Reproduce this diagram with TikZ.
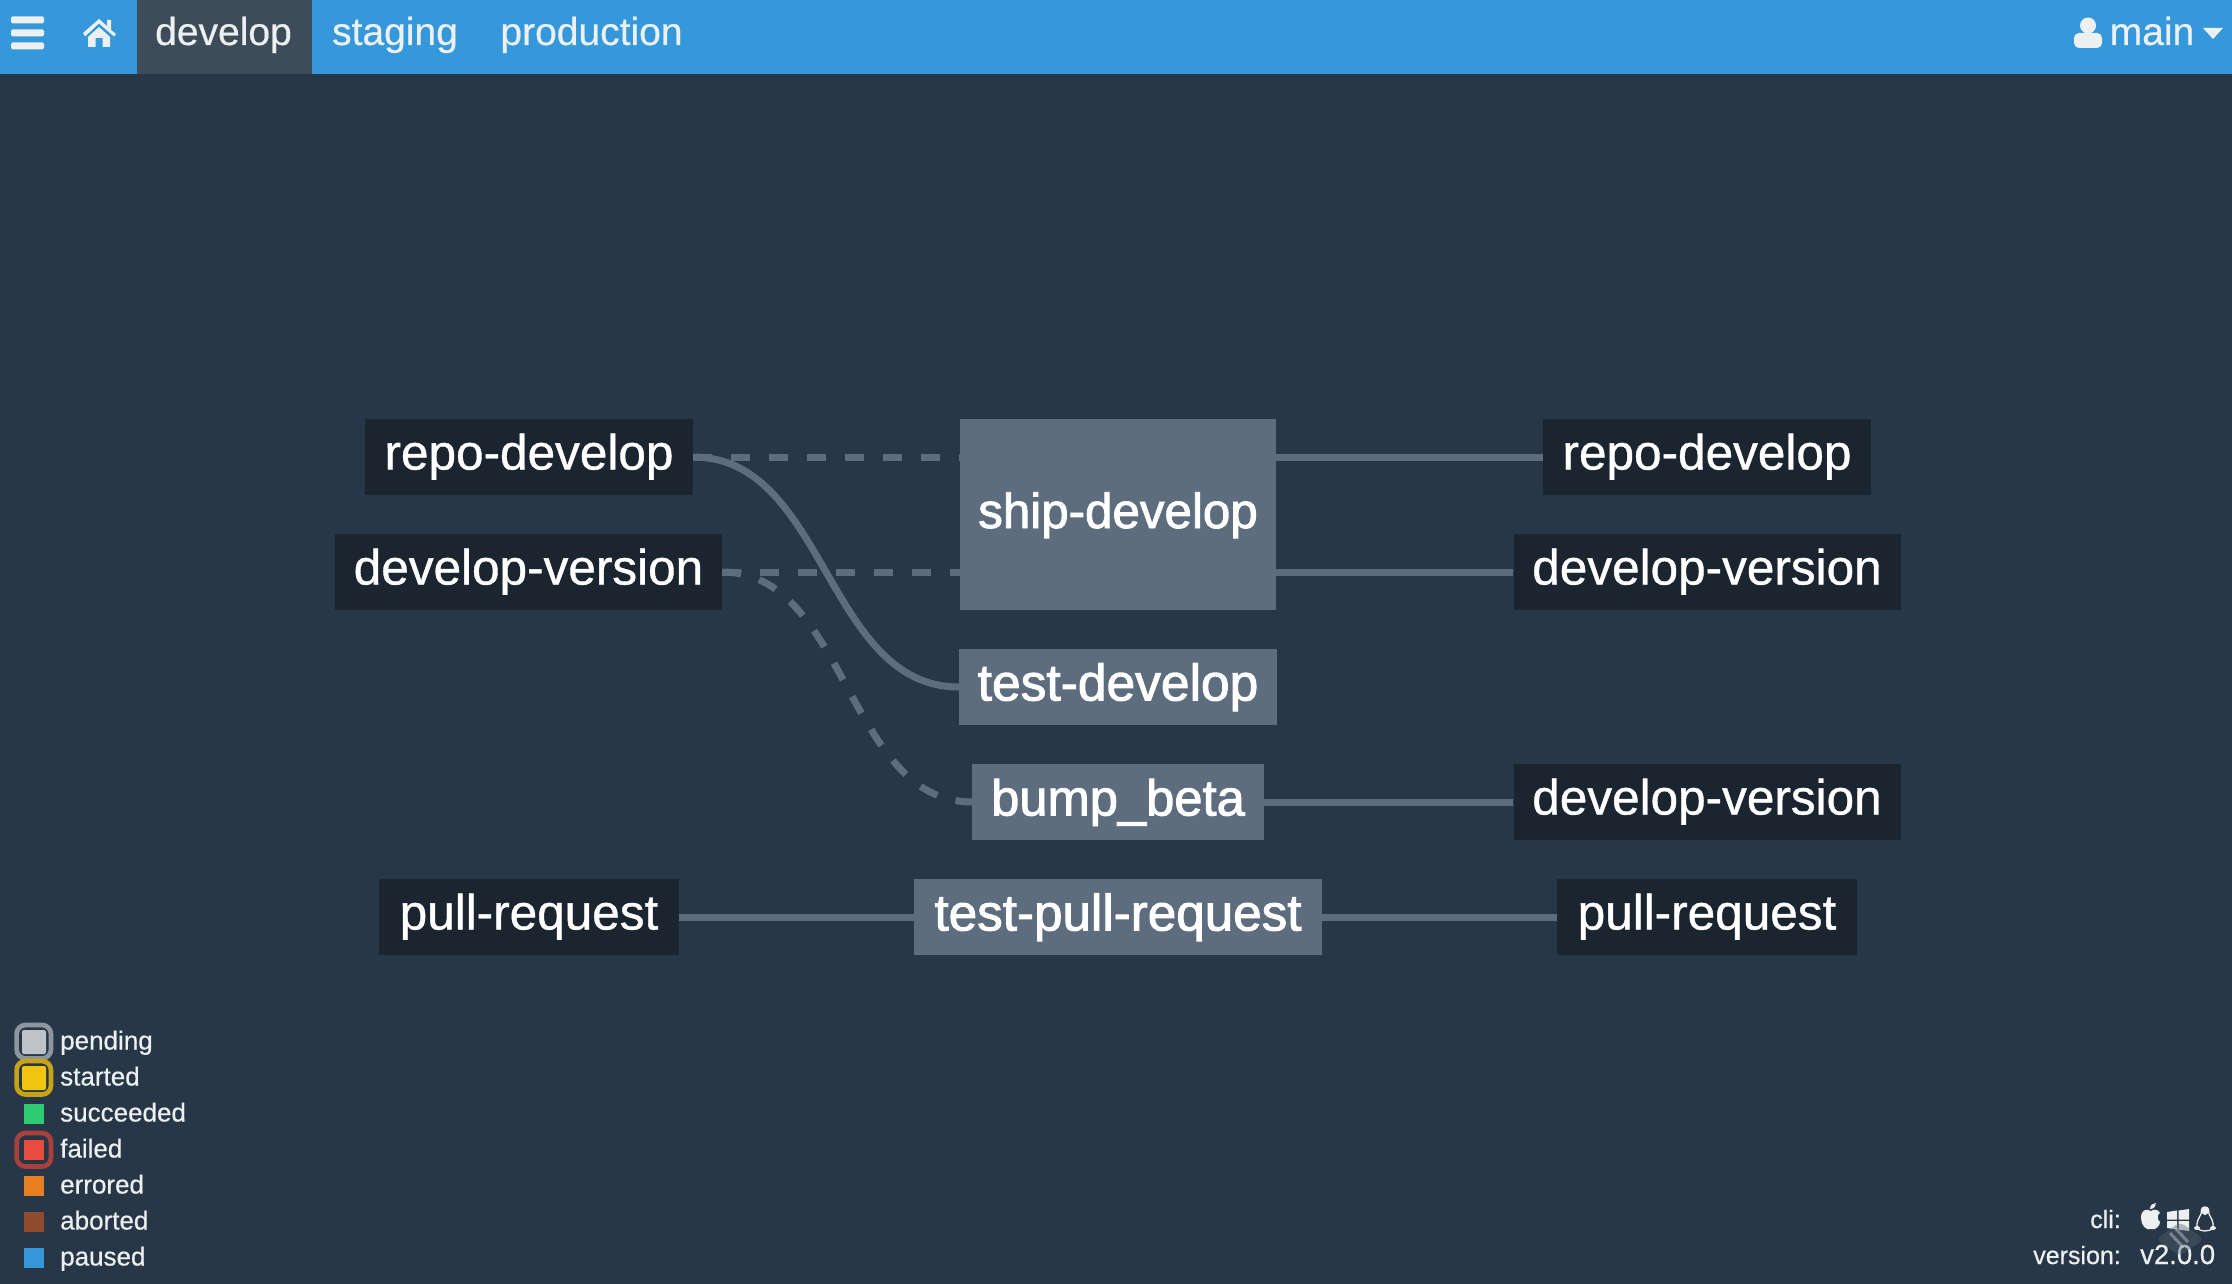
\documentclass[tikz,border=0pt]{standalone}
\usepackage{fontspec}
\setmainfont{Liberation Sans}
\newfontfamily\resfont[FakeBold=0.8]{Liberation Sans}
\newfontfamily\jobfont[FakeBold=1.8]{Liberation Sans}
\newfontfamily\smallfont[FakeBold=0.5]{Liberation Sans}
\usetikzlibrary{calc}
\definecolor{bg}{HTML}{283747}
\definecolor{bar}{HTML}{3498DB}
\definecolor{tab}{HTML}{3E4C5A}
\definecolor{dark}{HTML}{1B2530}
\definecolor{job}{HTML}{5D6D7E}
\definecolor{pale}{HTML}{ECF0F1}
\definecolor{ringa}{HTML}{8D959F}
\definecolor{ringb}{HTML}{C5A416}
\definecolor{ringc}{HTML}{A8413D}
\definecolor{grip}{HTML}{55606E}
\tikzset{
  x=1pt,y=-1pt,
  res/.style={fill=dark,text=white,inner sep=0pt,font=\resfont\fontsize{49.5}{48}\selectfont,text height=35pt,text depth=10pt,minimum height=76pt},
  jobbox/.style={fill=job,text=white,inner sep=0pt,font=\jobfont\fontsize{51}{48}\selectfont,text height=37pt,text depth=10pt,minimum height=76pt},
  link/.style={draw=job,line width=7pt},
  dashlink/.style={link,dash pattern=on 19pt off 19pt},
  nav/.style={text=pale,inner sep=0pt,font=\smallfont\fontsize{39}{38}\selectfont,text height=32pt,text depth=8pt},
  leg/.style={text=pale,inner sep=0pt,anchor=west,font=\smallfont\fontsize{26}{26}\selectfont,text height=21pt,text depth=6pt},
  foot/.style={text=pale,inner sep=0pt,font=\smallfont\fontsize{25}{26}\selectfont},
  ring/.style={rounded corners=9pt,line width=4.7pt}
}
\begin{document}
\begin{tikzpicture}
\useasboundingbox (0,0) rectangle (2232,1284);
\fill[bg] (0,0) rectangle (2232,1284);
% header
\fill[bar] (0,0) rectangle (2232,74);
\fill[tab] (137,0) rectangle (312,74);
\foreach \yy in {20,33,46} \fill[pale,rounded corners=1.5pt] (11,\yy-3.5) rectangle (44,\yy+3.5);
% home icon
\fill[pale] (83,33) -- (99,19) -- (107,26) -- (107,20) -- (111,20) -- (111,30) -- (116,34) -- (114,36.5) -- (99,23.5) -- (85,36.5) -- cycle;
\fill[pale] (88,37) -- (99,27) -- (110,37) -- (110,47) -- (102.5,47) -- (102.5,38) -- (95.5,38) -- (95.5,47) -- (88,47) -- cycle;
\node[nav] (navdev) at (223.5,33) {develop};
\node[nav] (navsta) at (395,33) {staging};
\node[nav] (navpro) at (591.5,33) {production};
\node[nav] (navmain) at (2152,33) {main};
% user icon
\fill[pale] (2088,25.5) circle (8pt);
\fill[pale,rounded corners=5pt] (2074,48) rectangle (2102,33);
\fill[pale] (2203,28) -- (2223,28) -- (2213,39) -- cycle;
% nodes
\node[res] (repoL) at (529,457) [minimum width=328pt] {repo-develop};
\node[res] (verL) at (528.5,572) [minimum width=387pt] {develop-version};
\node[res] (prL) at (529,917) [minimum width=300pt] {pull-request};
\node[jobbox,minimum width=316pt,minimum height=191pt] (ship) at (1118,514.5) {};
\node[jobbox,minimum width=318pt,font=\jobfont\fontsize{51.5}{48}\selectfont] (testd) at (1118,687) {test-develop};
\node[jobbox,minimum width=292pt,font=\jobfont\fontsize{50.7}{48}\selectfont] (bump) at (1118,802) {bump\_beta};
\node[jobbox,minimum width=408pt,font=\jobfont\fontsize{51.2}{48}\selectfont] (testpr) at (1118,917) {test-pull-request};
\node[res] (repoR) at (1707,457) [minimum width=328pt] {repo-develop};
\node[res] (verR) at (1707,572) [minimum width=387pt] {develop-version};
\node[res] (verB) at (1707,802) [minimum width=387pt] {develop-version};
\node[res] (prR) at (1707,917) [minimum width=300pt] {pull-request};
\node[text=white,inner sep=0pt,font=\jobfont\fontsize{49.3}{48}\selectfont,text height=37pt,text depth=10pt] (shiptext) at (ship.center) {ship-develop};
% links
\coordinate (mida) at ($(repoL.east)!.5!(testd.west)$);
\coordinate (midb) at ($(verL.east)!.5!(bump.west)$);
\draw[dashlink] (repoL.east) -- (repoL.east -| ship.west);
\draw[dashlink] (verL.east) -- (verL.east -| ship.west);
\draw[link] (repoL.east) .. controls (mida |- repoL.east) and (mida |- testd.west) .. (testd.west);
\draw[dashlink] (verL.east) .. controls (midb |- verL.east) and (midb |- bump.west) .. (bump.west);
\draw[link] (repoR.west -| ship.east) -- (repoR.west);
\draw[link] (verR.west -| ship.east) -- (verR.west);
\draw[link] (bump.east) -- (verB.west);
\draw[link] (prL.east) -- (testpr.west);
\draw[link] (testpr.east) -- (prR.west);
% legend
\draw[ring,draw=ringa] (16.6,1025) rectangle (51,1058.5);
\draw[ring,draw=ringb] (16.6,1061) rectangle (51,1094.5);
\draw[ring,draw=ringc] (16.6,1133) rectangle (51,1166.5);
\definecolor{sa}{HTML}{BDC3C7}
\definecolor{sb}{HTML}{F1C40F}
\fill[sa,rounded corners=2pt] (22,1030) rectangle (46,1054);
\fill[sb,rounded corners=2pt] (22,1066) rectangle (46,1090);
\foreach \yy/\cc in {1114/2ECC71,1150/E74C3C,1186/E67E22,1222/8E4B2E,1258/3498DB}{
  \definecolor{cc}{HTML}{\cc}
  \fill[cc] (24,\yy-10) rectangle (44,\yy+10);
}
\foreach \yy/\ww in {1042/pending,1078/started,1114/succeeded,1150/failed,1186/errored,1222/aborted,1258/paused}{
  \node[leg] at (60,\yy) {\ww};
}
% footer
\node[foot,anchor=base east] (cli) at (2121,1228) {cli:};
\node[foot,anchor=base east] (vers) at (2121,1264) {version:};
\node[foot,anchor=base west,font=\smallfont\fontsize{27.5}{26}\selectfont] (vv) at (2140,1264) {v2.0.0};
% apple
\begin{scope}[yshift=-1pt]
\fill[pale] (2151,1210) .. controls (2146,1207) and (2141,1209) .. (2141,1217) .. controls (2141,1224) and (2146,1230) .. (2151,1228) .. controls (2156,1230) and (2160,1224) .. (2160,1221) .. controls (2157,1219) and (2157,1213) .. (2160,1212) .. controls (2158,1208) and (2154,1208) .. (2151,1210) -- cycle;
\fill[pale] (2150,1208) .. controls (2150,1204) and (2153,1202) .. (2156,1202) .. controls (2156,1205) and (2154,1208) .. (2150,1208) -- cycle;
\end{scope}
% windows
\fill[pale] (2167,1212) -- (2177,1210.5) -- (2177,1219.5) -- (2167,1219.5) -- cycle;
\fill[pale] (2178.5,1210.5) -- (2189,1209) -- (2189,1219.5) -- (2178.5,1219.5) -- cycle;
\fill[pale] (2167,1221) -- (2177,1221) -- (2177,1229.5) -- (2167,1228) -- cycle;
\fill[pale] (2178.5,1221) -- (2189,1221) -- (2189,1231) -- (2178.5,1229.5) -- cycle;
% linux
\begin{scope}[yshift=-3pt]
\draw[pale,line width=1.3pt] (2205,1204) .. controls (2201,1204) and (2201,1208) .. (2201,1211) .. controls (2199,1215) and (2196,1219) .. (2197,1225) .. controls (2200,1229) and (2210,1229) .. (2213,1225) .. controls (2214,1219) and (2211,1215) .. (2209,1211) .. controls (2209,1208) and (2209,1204) .. (2205,1204) -- cycle;
\fill[pale] (2197,1225) ellipse (3pt and 2pt);
\fill[pale] (2213,1225) ellipse (3pt and 2pt);
\fill[pale] (2205,1208) ellipse (3.5pt and 4pt);
\end{scope}
% resize grip overlay
\fill[grip,opacity=.4,rounded corners=5pt] (2180,1222) -- (2204,1239) -- (2180,1256) -- (2156,1239) -- cycle;
\draw[pale,opacity=.35,line width=3pt] (2170,1233) -- (2182,1246);
\draw[pale,opacity=.35,line width=3pt] (2176,1229) -- (2188,1242);
\end{tikzpicture}
\end{document}
